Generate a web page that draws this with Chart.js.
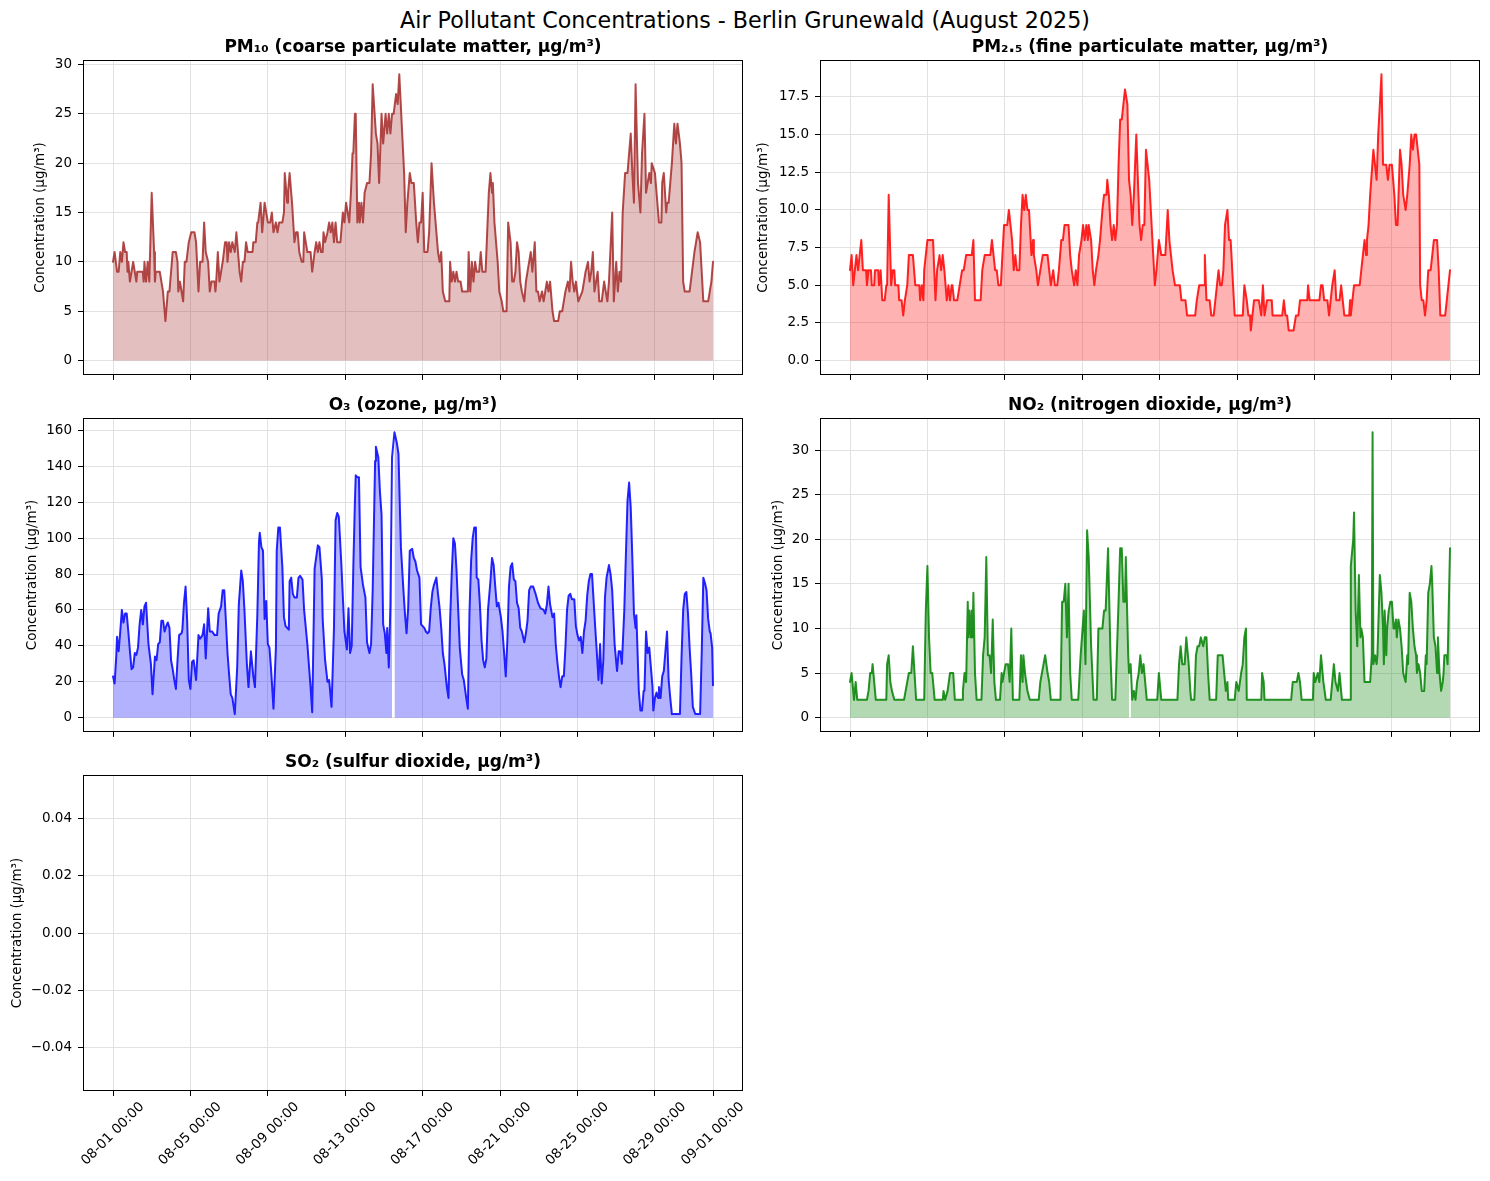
<!DOCTYPE html>
<html><head><meta charset="utf-8">
<script src="https://cdn.jsdelivr.net/npm/chart.js@4.4.1/dist/chart.umd.min.js"></script>
<style>
html,body{margin:0;padding:0;background:#fff;}
body{width:1490px;height:1181px;position:relative;overflow:hidden;font-family:'DejaVu Sans',sans-serif;}
#suptitle{position:absolute;left:0;width:1490px;top:5px;text-align:center;font-size:22.2px;line-height:30px;color:#000;white-space:nowrap;}
canvas{position:absolute;}
</style></head><body>
<div id="suptitle">Air Pollutant Concentrations - Berlin Grunewald (August 2025)</div>
<canvas id="c0"></canvas><canvas id="c1"></canvas><canvas id="c2"></canvas><canvas id="c3"></canvas><canvas id="c4"></canvas>
<script>
// ---- DATA (hour since 2025-08-01 00:00, concentration µg/m³) ----
const xTickHours = [0,96,192,288,384,480,576,672,744];
const xTickLabels = ['08-01 00:00','08-05 00:00','08-09 00:00','08-13 00:00','08-17 00:00','08-21 00:00','08-25 00:00','08-29 00:00','09-01 00:00'];

const pm10Readings = [[0,10],[2,11],[5,9],[7,9],[9,11],[11,10],[13,12],[15,11],[17,11],[18,9],[19,10],[21,8],[23,9],[25,10],[27,9],[29,8],[30,9],[37,9],[38,8],[39,10],[41,8],[43,10],[45,8],[48,17],[51,11],[52,8],[53,9],[58,9],[60,8],[62,7],[65,4],[68,7],[70,7],[74,11],[78,11],[80,10],[81,7],[83,8],[85,7],[87,6],[89,10],[91,10],[94,12],[97,13],[101,13],[103,12],[106,7],[108,10],[111,10],[113,14],[115,11],[118,10],[120,7],[122,8],[126,8],[127,7],[128,8],[130,11],[132,8],[134,9],[136,10],[139,12],[141,12],[142,10],[144,12],[146,11],[148,12],[151,11],[153,13],[155,11],[157,9],[159,8],[161,10],[163,10],[165,12],[167,11],[173,11],[174,12],[177,12],[179,14],[180,14],[183,16],[185,13],[188,16],[190,15],[192,14],[195,14],[197,15],[199,13],[202,14],[204,13],[206,14],[210,14],[212,15],[213,19],[216,16],[217,17],[219,19],[222,16],[225,12],[227,13],[229,13],[231,11],[234,10],[236,10],[237,13],[239,12],[241,11],[245,11],[247,9],[250,11],[252,12],[254,11],[256,12],[258,11],[260,11],[261,13],[263,12],[266,13],[268,14],[270,13],[272,14],[274,12],[276,14],[278,12],[282,12],[283,13],[285,15],[287,14],[289,16],[291,15],[293,14],[295,17],[297,21],[298,21],[300,25],[301,25],[303,14],[305,16],[306,14],[308,16],[310,14],[312,17],[315,18],[318,18],[320,21],[322,28],[326,23],[328,22],[330,18],[331,18],[333,25],[335,22],[338,25],[340,23],[342,25],[344,23],[346,25],[348,25],[351,27],[353,26],[355,29],[361,19],[363,13],[365,16],[368,19],[370,18],[373,18],[376,14],[378,12],[380,14],[382,14],[384,17],[386,11],[390,11],[392,13],[395,20],[398,16],[403,11],[405,10],[407,11],[409,7],[412,6],[417,6],[418,10],[420,8],[422,9],[424,8],[426,9],[428,8],[431,8],[433,7],[438,7],[440,7],[441,11],[443,7],[445,10],[447,8],[449,10],[451,9],[454,9],[456,11],[458,9],[462,9],[464,13],[466,17],[468,19],[470,17],[471,18],[473,14],[477,10],[479,7],[482,6],[484,5],[488,5],[490,14],[493,12],[495,8],[497,8],[499,9],[501,12],[503,11],[505,8],[507,7],[510,6],[512,8],[514,9],[516,10],[518,11],[520,9],[523,12],[525,7],[527,7],[529,6],[532,7],[534,6],[536,7],[538,8],[540,7],[542,8],[545,5],[547,4],[552,4],[554,5],[557,5],[559,6],[561,7],[564,8],[566,7],[568,10],[570,8],[572,7],[574,8],[577,6],[582,7],[584,8],[586,9],[589,10],[591,8],[593,9],[595,11],[597,7],[599,8],[601,9],[603,6],[606,6],[609,8],[611,7],[613,6],[615,8],[619,15],[621,6],[624,10],[626,7],[628,9],[630,8],[632,15],[635,19],[638,19],[640,21],[642,23],[644,19],[646,16],[648,28],[651,18],[654,15],[656,21],[659,25],[661,17],[663,18],[665,19],[667,18],[668,20],[672,19],[674,17],[677,14],[680,14],[681,18],[683,19],[686,15],[687,16],[689,16],[691,18],[693,20],[696,24],[698,22],[700,24],[703,22],[705,20],[707,8],[709,7],[715,7],[718,9],[721,11],[723,12],[725,13],[728,12],[730,9],[732,6],[736,6],[738,6],[740,7],[742,8],[744,10]];

const pm25Readings = [[0,6],[2,7],[4,5],[6,6],[8,7],[10,6],[12,7],[14,8],[16,6],[20,6],[21,5],[23,6],[26,6],[27,5],[30,5],[31,6],[35,6],[36,5],[38,6],[40,4],[43,4],[45,5],[46,5],[48,11],[51,5],[53,6],[55,6],[56,5],[60,5],[61,4],[64,4],[66,3],[68,4],[71,5],[73,7],[78,7],[81,5],[86,5],[87,4],[89,5],[91,4],[92,6],[96,8],[103,8],[106,4],[108,6],[111,7],[113,6],[115,7],[117,6],[120,4],[122,5],[124,4],[126,5],[127,5],[129,4],[133,4],[136,5],[139,6],[141,6],[144,7],[151,7],[153,8],[155,4],[162,4],[164,6],[167,7],[174,7],[176,8],[178,7],[180,6],[182,6],[184,5],[187,5],[189,7],[191,9],[193,9],[195,9],[197,10],[199,9],[201,8],[203,6],[205,7],[207,6],[210,6],[212,9],[214,11],[216,10],[218,11],[220,10],[222,10],[224,8],[225,7],[227,8],[228,7],[231,6],[233,5],[236,6],[239,7],[245,7],[247,6],[249,5],[252,6],[254,5],[257,5],[259,6],[262,8],[264,8],[266,9],[271,9],[273,7],[275,6],[278,5],[280,6],[282,5],[284,7],[287,8],[289,9],[291,8],[293,9],[295,8],[296,9],[299,8],[301,6],[303,5],[305,6],[308,7],[310,8],[313,10],[315,11],[318,11],[319,12],[321,11],[323,9],[325,8],[327,9],[329,8],[331,9],[333,13],[335,16],[337,16],[339,17],[341,18],[344,17],[346,12],[348,11],[350,9],[352,11],[355,15],[357,12],[359,9],[361,8],[363,9],[365,9],[367,14],[369,13],[371,12],[374,9],[376,7],[378,5],[380,6],[383,8],[386,7],[391,7],[394,10],[396,8],[398,7],[400,6],[403,5],[409,5],[411,4],[416,4],[418,3],[428,3],[430,4],[433,5],[439,5],[440,7],[442,4],[446,4],[448,3],[451,3],[453,4],[455,5],[457,6],[459,5],[461,5],[463,6],[465,9],[468,10],[470,8],[472,8],[475,5],[477,3],[487,3],[489,5],[492,4],[494,3],[496,3],[497,2],[499,3],[501,4],[507,4],[510,3],[512,5],[514,3],[517,4],[523,4],[524,3],[536,3],[538,4],[540,3],[542,3],[544,2],[550,2],[553,3],[556,3],[558,4],[567,4],[568,5],[570,4],[582,4],[584,5],[586,5],[588,4],[592,4],[594,3],[596,4],[598,5],[601,6],[603,4],[607,4],[609,5],[611,4],[613,3],[619,3],[620,4],[621,3],[625,5],[632,5],[634,6],[636,7],[638,8],[640,7],[641,8],[643,9],[645,11],[649,14],[651,13],[653,12],[655,15],[657,17],[659,19],[661,13],[665,13],[667,12],[669,13],[672,13],[675,11],[677,9],[679,9],[682,14],[684,13],[686,11],[689,10],[691,11],[694,13],[696,15],[698,14],[700,15],[702,15],[704,14],[706,13],[707,5],[709,4],[711,4],[713,3],[715,4],[717,6],[720,6],[722,7],[724,8],[728,8],[730,6],[732,3],[738,3],[740,4],[742,5],[744,6]];

const o3Readings = [[0,23],[2,19],[4,34],[5,45],[7,37],[9,48],[11,60],[13,53],[15,58],[17,58],[19,48],[21,37],[23,27],[25,28],[27,36],[29,35],[31,39],[33,52],[35,60],[37,52],[39,62],[41,64],[42,64],[44,41],[47,30],[49,13],[52,34],[54,32],[56,41],[58,42],[60,54],[62,54],[64,48],[66,51],[68,53],[70,50],[72,32],[74,27],[76,21],[78,16],[80,32],[82,46],[85,47],[86,49],[88,64],[90,73],[92,54],[94,21],[96,16],[98,31],[100,32],[103,21],[106,46],[108,44],[111,46],[113,52],[115,33],[118,61],[120,48],[123,48],[126,46],[129,46],[131,58],[134,62],[136,71],[138,71],[140,54],[142,36],[144,24],[146,13],[148,11],[151,2],[154,28],[156,63],[159,82],[161,76],[163,60],[166,30],[168,17],[171,37],[174,23],[176,17],[179,58],[181,98],[182,103],[184,95],[186,93],[188,55],[190,65],[192,41],[194,39],[196,27],[199,5],[202,39],[203,93],[205,106],[207,106],[210,84],[212,56],[214,51],[218,49],[219,76],[221,78],[223,69],[225,67],[228,67],[230,78],[232,79],[235,77],[237,60],[241,41],[245,17],[247,3],[250,83],[254,96],[256,95],[259,77],[260,55],[263,32],[266,20],[268,21],[271,6],[274,50],[276,110],[278,114],[280,112],[283,87],[287,48],[290,38],[292,61],[294,36],[296,40],[298,84],[300,121],[301,135],[303,134],[305,134],[307,84],[310,74],[313,67],[315,42],[318,36],[320,41],[322,71],[325,143],[326,151],[329,145],[331,126],[333,113],[335,52],[337,47],[339,36],[340,50],[342,28],[344,63],[346,145],[347,null],[349,159],[352,153],[354,147],[357,95],[360,72],[362,58],[364,47],[366,61],[368,93],[371,94],[373,89],[375,87],[377,82],[380,78],[382,52],[384,51],[386,50],[388,48],[390,47],[392,48],[394,61],[396,70],[398,74],[401,78],[403,69],[405,61],[407,50],[409,36],[411,30],[414,17],[416,11],[418,54],[420,80],[422,100],[424,97],[426,82],[428,61],[430,39],[433,24],[435,21],[438,11],[440,5],[442,58],[444,87],[446,100],[448,106],[450,106],[451,78],[453,77],[455,63],[457,43],[459,32],[461,28],[463,33],[465,60],[468,76],[470,89],[472,85],[474,73],[476,62],[478,64],[481,56],[483,48],[485,36],[487,23],[489,43],[491,73],[493,84],[495,86],[497,77],[499,76],[501,64],[503,61],[505,50],[507,48],[510,42],[512,47],[514,54],[516,71],[518,73],[521,73],[524,69],[527,64],[530,61],[534,60],[536,58],[538,63],[540,73],[542,63],[545,56],[547,58],[549,41],[551,31],[553,23],[555,17],[557,23],[559,23],[561,39],[563,60],[565,68],[567,69],[569,66],[572,66],[574,51],[576,46],[578,43],[580,45],[582,36],[584,48],[586,54],[588,68],[590,76],[592,80],[594,80],[596,65],[598,50],[600,36],[602,21],[604,41],[606,19],[608,32],[610,67],[612,78],[615,85],[617,80],[619,71],[622,41],[625,26],[627,37],[629,37],[631,30],[634,60],[636,91],[638,121],[640,131],[642,117],[644,89],[646,58],[648,50],[649,57],[652,15],[654,4],[656,4],[658,15],[659,15],[661,48],[663,36],[665,39],[667,28],[669,17],[670,4],[672,11],[674,14],[676,11],[677,17],[679,11],[681,23],[683,26],[685,37],[687,48],[689,21],[691,11],[693,2],[703,2],[705,34],[707,60],[709,69],[711,70],[713,58],[715,39],[717,24],[719,6],[722,2],[728,2],[730,36],[732,78],[734,75],[736,71],[738,55],[740,48],[741,47],[743,39],[744,18]];

const no2Readings = [[0,4],[2,5],[4,3],[5,2],[7,4],[9,2],[21,2],[23,3],[25,5],[27,5],[28,6],[30,4],[32,2],[45,2],[46,6],[48,7],[50,4],[52,3],[55,2],[67,2],[69,3],[71,4],[73,5],[76,5],[78,8],[80,5],[82,2],[92,2],[94,12],[96,17],[98,9],[100,5],[102,5],[105,2],[115,2],[116,3],[118,2],[121,3],[124,5],[128,5],[130,2],[139,2],[140,3],[142,5],[144,4],[146,13],[147,9],[148,12],[150,9],[151,12],[152,9],[153,14],[155,5],[157,2],[163,2],[165,7],[167,9],[169,18],[171,7],[173,7],[175,5],[177,11],[179,4],[181,2],[186,2],[188,5],[189,4],[191,5],[193,6],[196,6],[198,4],[200,10],[202,2],[210,2],[212,7],[214,4],[215,7],[217,5],[220,3],[223,2],[234,2],[236,4],[238,5],[240,6],[242,7],[245,5],[247,4],[249,2],[261,2],[263,13],[265,13],[267,15],[269,9],[271,15],[273,5],[275,2],[283,2],[286,7],[290,12],[292,6],[294,21],[296,18],[299,8],[302,2],[306,2],[308,10],[313,10],[315,12],[317,12],[320,19],[323,7],[325,2],[329,2],[333,13],[335,19],[337,19],[339,13],[341,13],[342,18],[345,7],[346,5],[347,null],[348,6],[350,2],[352,3],[354,2],[356,4],[358,5],[360,7],[362,5],[364,6],[366,4],[368,2],[381,2],[383,5],[384,4],[386,2],[406,2],[408,6],[410,8],[412,6],[415,6],[417,9],[420,6],[422,3],[423,2],[427,2],[429,7],[431,8],[433,8],[435,9],[438,8],[440,9],[442,9],[444,5],[446,2],[454,2],[456,7],[458,7],[460,7],[462,7],[464,5],[466,3],[468,4],[469,2],[477,2],[479,4],[482,3],[485,5],[487,6],[489,9],[491,10],[492,2],[510,2],[511,5],[513,4],[514,2],[547,2],[549,4],[554,4],[556,5],[558,4],[560,2],[574,2],[575,5],[577,4],[580,5],[582,4],[584,7],[586,5],[587,4],[590,2],[596,2],[598,4],[600,6],[602,4],[605,3],[607,5],[610,2],[620,2],[621,17],[624,20],[625,23],[627,12],[629,8],[631,16],[633,9],[634,10],[636,9],[638,4],[645,4],[647,7],[648,32],[649,6],[651,7],[653,6],[654,7],[657,16],[659,14],[661,10],[662,6],[663,12],[665,7],[666,10],[668,12],[670,13],[672,13],[674,10],[675,10],[677,11],[678,9],[680,11],[682,10],[684,8],[686,5],[689,4],[691,7],[692,6],[694,14],[696,13],[698,10],[700,8],[702,7],[703,5],[705,6],[707,5],[709,3],[712,3],[714,7],[715,6],[717,14],[719,15],[721,17],[722,15],[724,9],[726,8],[728,5],[729,9],[731,5],[733,3],[735,4],[736,5],[737,7],[740,7],[741,6],[744,19]];

const so2Readings = []; // no valid SO2 readings in August 2025

const pm10YTicks = [0,5,10,15,20,25,30];
const pm10YLabels = ['0','5','10','15','20','25','30'];
const pm25YTicks = [0,2.5,5,7.5,10,12.5,15,17.5];
const pm25YLabels = ['0.0','2.5','5.0','7.5','10.0','12.5','15.0','17.5'];
const o3YTicks = [0,20,40,60,80,100,120,140,160];
const o3YLabels = ['0','20','40','60','80','100','120','140','160'];
const no2YTicks = [0,5,10,15,20,25,30];
const no2YLabels = ['0','5','10','15','20','25','30'];
const so2YTicks = [-0.04,-0.02,0,0.02,0.04];
const so2YLabels = ['\u22120.04','\u22120.02','0.00','0.02','0.04'];

// ---- RENDERING ----
const FONT = "'DejaVu Sans', sans-serif";
const X_MIN = -37.2, X_MAX = 781.2;

const panels = [
  {id:'c0', title:'PM\u2081\u2080 (coarse particulate matter, \u00b5g/m\u00b3)', data:pm10Readings, rgb:[165,42,42], yt:pm10YTicks, yl:pm10YLabels, box:{l:83,t:60,r:743,b:377}, labX:40, showX:false},
  {id:'c1', title:'PM\u2082.\u2085 (fine particulate matter, \u00b5g/m\u00b3)', data:pm25Readings, rgb:[255,0,0], yt:pm25YTicks, yl:pm25YLabels, box:{l:820,t:60,r:1480,b:377}, labX:763, showX:false},
  {id:'c2', title:'O\u2083 (ozone, \u00b5g/m\u00b3)', data:o3Readings, rgb:[0,0,255], yt:o3YTicks, yl:o3YLabels, box:{l:83,t:418,r:743,b:734}, labX:32, showX:false},
  {id:'c3', title:'NO\u2082 (nitrogen dioxide, \u00b5g/m\u00b3)', data:no2Readings, rgb:[0,128,0], yt:no2YTicks, yl:no2YLabels, box:{l:820,t:418,r:1480,b:734}, labX:778, showX:false},
  {id:'c4', title:'SO\u2082 (sulfur dioxide, \u00b5g/m\u00b3)', data:so2Readings, rgb:[128,0,128], yt:so2YTicks, yl:so2YLabels, box:{l:83,t:775,r:743,b:1091}, labX:17, showX:true, ylim:[-0.055,0.055]}
];

const framePlugin = {
  id:'frame',
  afterDraw(chart){
    const a = chart.chartArea, ctx = chart.ctx;
    ctx.save();
    ctx.strokeStyle = '#000';
    ctx.lineWidth = 1;
    const l = Math.round(a.left)+0.5, t = Math.round(a.top)+0.5;
    const r = Math.round(a.right)-0.5, b = Math.round(a.bottom)-0.5;
    ctx.strokeRect(l, t, r-l, b-t);
    ctx.restore();
  }
};

const rgba = (c,a) => `rgba(${c[0]},${c[1]},${c[2]},${a})`;

panels.forEach(p => {
  const titleH = 30;
  const xH = p.showX ? 90 : 12;
  const padR = p.showX ? 20 : 10;
  const cLeft = p.labX - 8;
  const yW = p.box.l - cLeft;
  const w = yW + (p.box.r - p.box.l) + padR;
  const h = titleH + (p.box.b - p.box.t) + xH;
  const cv = document.getElementById(p.id);
  cv.width = w; cv.height = h;
  cv.style.left = cLeft + 'px';
  cv.style.top = (p.box.t - titleH) + 'px';
  cv.style.width = w + 'px'; cv.style.height = h + 'px';

  const pts = p.data.map(d => ({x:d[0], y:d[1]}));
  let yMin, yMax;
  if (p.ylim) { yMin = p.ylim[0]; yMax = p.ylim[1]; }
  else {
    const vals = p.data.map(d => d[1]).filter(v => v !== null);
    const hi = Math.max(0, ...vals), lo = Math.min(0, ...vals);
    const m = (hi - lo) * 0.05;
    yMin = lo - m; yMax = hi + m;
  }
  const datasets = pts.length ? [
    {data:pts, borderWidth:0, borderColor:'rgba(0,0,0,0)', backgroundColor:rgba(p.rgb,0.3), fill:'origin', pointRadius:0, tension:0, spanGaps:false, order:2},
    {data:pts, borderColor:rgba(p.rgb,0.85), borderWidth:2, fill:false, pointRadius:0, tension:0, spanGaps:true, order:1, borderJoinStyle:'round', borderCapStyle:'round'}
  ] : [];

  new Chart(cv, {
    type:'line',
    data:{datasets},
    options:{
      responsive:false, animation:false, devicePixelRatio:1,
      events:[],
      layout:{padding:{left:0, right:padR, top:0, bottom:0}},
      plugins:{
        legend:{display:false}, tooltip:{enabled:false},
        title:{display:true, text:p.title, fullSize:false, color:'#000',
               font:{family:FONT, size:17, weight:'bold'}, padding:{top:7, bottom:2.6}}
      },
      scales:{
        x:{
          type:'linear', min:X_MIN, max:X_MAX,
          afterBuildTicks: s => { s.ticks = xTickHours.map(v => ({value:v})); },
          afterFit: s => { s.height = xH; },
          border:{display:false},
          grid:{color:'#e2e2e2', lineWidth:1, drawTicks:true, tickLength:5, tickColor:'#000', tickWidth:1},
          ticks:{display:p.showX, autoSkip:false, minRotation:45, maxRotation:45, labelOffset:29, padding:3,
                 color:'#000', font:{family:FONT, size:13.5},
                 callback: v => { const i = xTickHours.indexOf(v); return i >= 0 ? xTickLabels[i] : ''; }}
        },
        y:{
          type:'linear', min:yMin, max:yMax,
          afterBuildTicks: s => { s.ticks = p.yt.map(v => ({value:v})); },
          afterFit: s => { s.width = yW; },
          border:{display:false},
          grid:{color:'#e2e2e2', lineWidth:1, drawTicks:true, tickLength:5, tickColor:'#000', tickWidth:1},
          ticks:{padding:6, color:'#000', font:{family:FONT, size:13.5},
                 callback: v => { const i = p.yt.findIndex(t => Math.abs(t - v) < 1e-9); return i >= 0 ? p.yl[i] : ''; }},
          title:{display:true, text:'Concentration (\u00b5g/m\u00b3)', color:'#000', font:{family:FONT, size:13.5}, padding:0}
        }
      }
    },
    plugins:[framePlugin]
  });
});
</script>
</body></html>
